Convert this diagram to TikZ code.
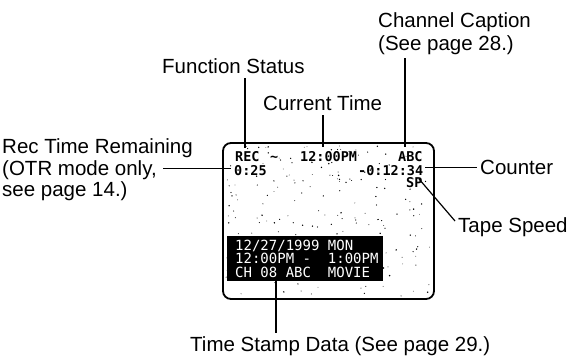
\documentclass[tikz,border=0pt]{standalone}
\usepackage{fontspec}
\setmainfont{Liberation Sans}
\newfontfamily\scrmono{DejaVu Sans Mono}
\begin{document}
\begin{tikzpicture}[x=1pt,y=-1pt,
  lbl/.style={inner sep=0pt,anchor=base west,font=\fontsize{20.5}{22}\selectfont},
  scr/.style={inner sep=0pt,anchor=base west,font=\scrmono\fontsize{13.5}{15}\selectfont\bfseries},
  stamp/.style={inner sep=0pt,anchor=base west,text=white,font=\scrmono\fontsize{14}{15}\selectfont},
  conn/.style={line width=1.2pt},
  frame/.style={line width=1.8pt,rounded corners=8pt}]
\useasboundingbox (0,0) rectangle (577,359);
% screen
\draw[frame] (223,143) rectangle (434,299);
% speckles
\pgfmathsetseed{11}
\foreach \i in {1,...,220}{
  \pgfmathsetmacro{\px}{226+rnd*205}
  \pgfmathsetmacro{\py}{146+rnd*150}
  \pgfmathsetmacro{\pr}{0.35+rnd*0.5}
  \fill (\px,\py) circle (\pr);
}
% time stamp box
\fill (227,236) rectangle (383,281);
% screen texts
\node[scr] (rec) at (235,161) {REC};
\node[scr] (tilde) at (270,161) {\textasciitilde};
\node[scr] (ctime) at (300,161) {12:00PM};
\node[scr] (abc) at (398,161) {ABC};
\node[scr] (otr) at (234,175) {0:25};
\node[scr] (cnt) at (358,175) {-0:12:34};
\node[scr] (sp) at (406,187) {SP};
\node[stamp] (s1) at (235,250) {12/27/1999 MON};
\node[stamp] (s2) at (235,263.5) {12:00PM -\ \ 1:00PM};
\node[stamp] (s3) at (235,277) {CH 08 ABC\ \ MOVIE};
% labels
\node[lbl] (cc1) at (378,27) {Channel Caption};
\node[lbl] (cc2) at (378,50) {(See page 28.)};
\node[lbl] (fs) at (162,73) {Function Status};
\node[lbl] (ct) at (263,110) {Current Time};
\node[lbl] (rt1) at (2,153) {Rec Time Remaining};
\node[lbl] (rt2) at (2,175) {(OTR mode only,};
\node[lbl] (rt3) at (2,196) {see page 14.)};
\node[lbl] (co) at (480,174) {Counter};
\node[lbl] (ts) at (458,232) {Tape Speed};
\node[lbl] (tsd) at (190,351) {Time Stamp Data (See page 29.)};
% connector ends
\coordinate (ccA) at (405,58);
\coordinate (ccB) at (405,147);
\coordinate (fsA) at (245,78);
\coordinate (fsB) at (245,148);
\coordinate (ctA) at (323,115);
\coordinate (ctB) at (323,147);
\coordinate (rtA) at (163,168.5);
\coordinate (rtB) at (231,168.5);
\coordinate (coA) at (425,167.5);
\coordinate (coB) at (477,167.5);
\coordinate (spA) at (419,179);
\coordinate (spB) at (455,221);
\coordinate (tsA) at (276,281);
\coordinate (tsB) at (276,333);
\draw[conn] (ccA) -- (ccB);
\draw[conn] (fsA) -- (fsB);
\draw[conn] (ctA) -- (ctB);
\draw[conn] (rtA) -- (rtB);
\draw[conn] (coA) -- (coB);
\draw[conn] (spA) -- (spB);
\draw[conn] (tsA) -- (tsB);
\end{tikzpicture}
\end{document}
